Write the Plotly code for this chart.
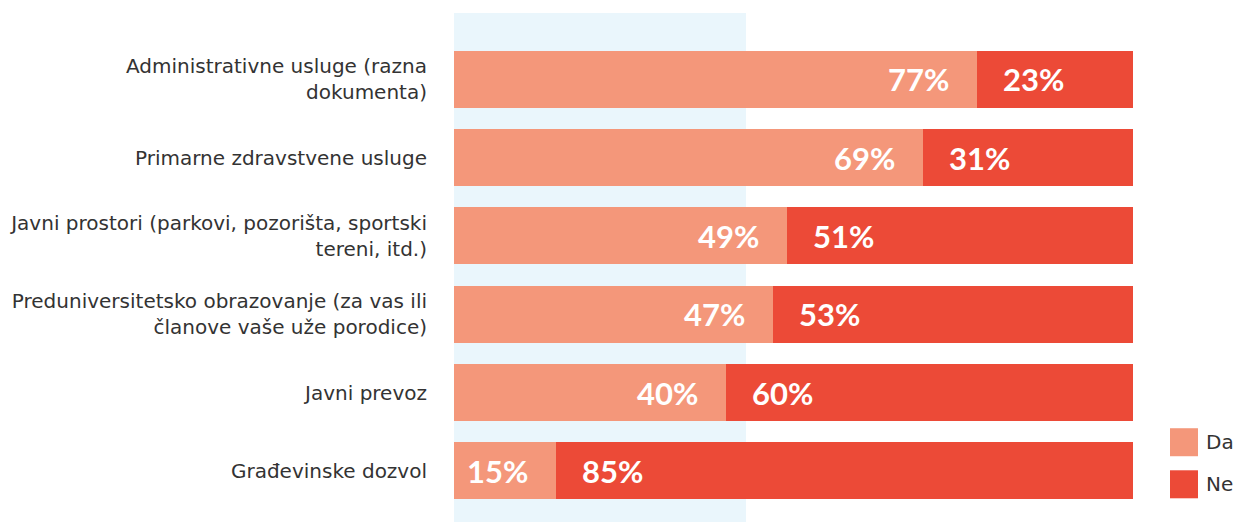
import plotly.graph_objects as go

categories = [
    "Administrativne usluge (razna<br>dokumenta)",
    "Primarne zdravstvene usluge",
    "Javni prostori (parkovi, pozorišta, sportski<br>tereni, itd.)",
    "Preduniversitetsko obrazovanje (za vas ili<br>članove vaše uže porodice)",
    "Javni prevoz",
    "Građevinske dozvol",
]
da = [77, 69, 49, 47, 40, 15]
ne = [23, 31, 51, 53, 60, 85]
series_names = ["Da", "Ne"]

DA_COLOR = "#F4977A"
NE_COLOR = "#EC4A37"
LABEL_FONT = "DejaVu Sans"
VALUE_FONT = "Lato"

fig = go.Figure()
fig.add_trace(go.Bar(y=categories, x=da, name=series_names[0], orientation="h",
                     marker=dict(color=DA_COLOR, line=dict(width=0)),
                     showlegend=False, hoverinfo="skip"))
fig.add_trace(go.Bar(y=categories, x=ne, name=series_names[1], orientation="h",
                     marker=dict(color=NE_COLOR, line=dict(width=0)),
                     showlegend=False, hoverinfo="skip"))

# value labels: Da at inner end, Ne at inner start
for cat, d in zip(categories, da):
    fig.add_annotation(x=d, y=cat, text=f"<b>{d}%</b>", showarrow=False,
                       xanchor="right", xshift=-26,
                       font=dict(family=VALUE_FONT, size=31, color="white"))
for cat, d, n in zip(categories, da, ne):
    fig.add_annotation(x=d, y=cat, text=f"<b>{n}%</b>", showarrow=False,
                       xanchor="left", xshift=24,
                       font=dict(family=VALUE_FONT, size=31, color="white"))

# light blue highlight band behind bars
fig.add_shape(type="rect", xref="x", yref="paper", x0=0, x1=43, y0=-0.03, y1=1.0575,
              fillcolor="#EAF6FC", line=dict(width=0), layer="below")

# manual legend
for i, (name, col) in enumerate(zip(series_names, [DA_COLOR, NE_COLOR])):
    y_top = 0.174 - i * 0.0895
    fig.add_shape(type="rect", xref="paper", yref="paper",
                  x0=1.0545, x1=1.0957, y0=y_top - 0.0596, y1=y_top,
                  fillcolor=col, line=dict(width=0))
    fig.add_annotation(xref="paper", yref="paper", x=1.104, y=y_top - 0.03,
                       text=name, showarrow=False, xanchor="left", yanchor="middle",
                       font=dict(family=LABEL_FONT, size=20, color="#333333"))

fig.update_layout(
    width=1227, height=514,
    barmode="stack", bargap=0.27,
    plot_bgcolor="white", paper_bgcolor="white",
    margin=dict(l=446, r=102, t=32, b=12.4, autoexpand=False),
    font=dict(family=LABEL_FONT, size=20, color="#333333"),
    xaxis=dict(range=[0, 100], visible=False, showgrid=False, automargin=False),
    yaxis=dict(autorange="reversed", showgrid=False, ticks="", automargin=False,
               ticklabelstandoff=26, tickfont=dict(size=20, color="#333333")),
)

fig.write_html("out.html")
